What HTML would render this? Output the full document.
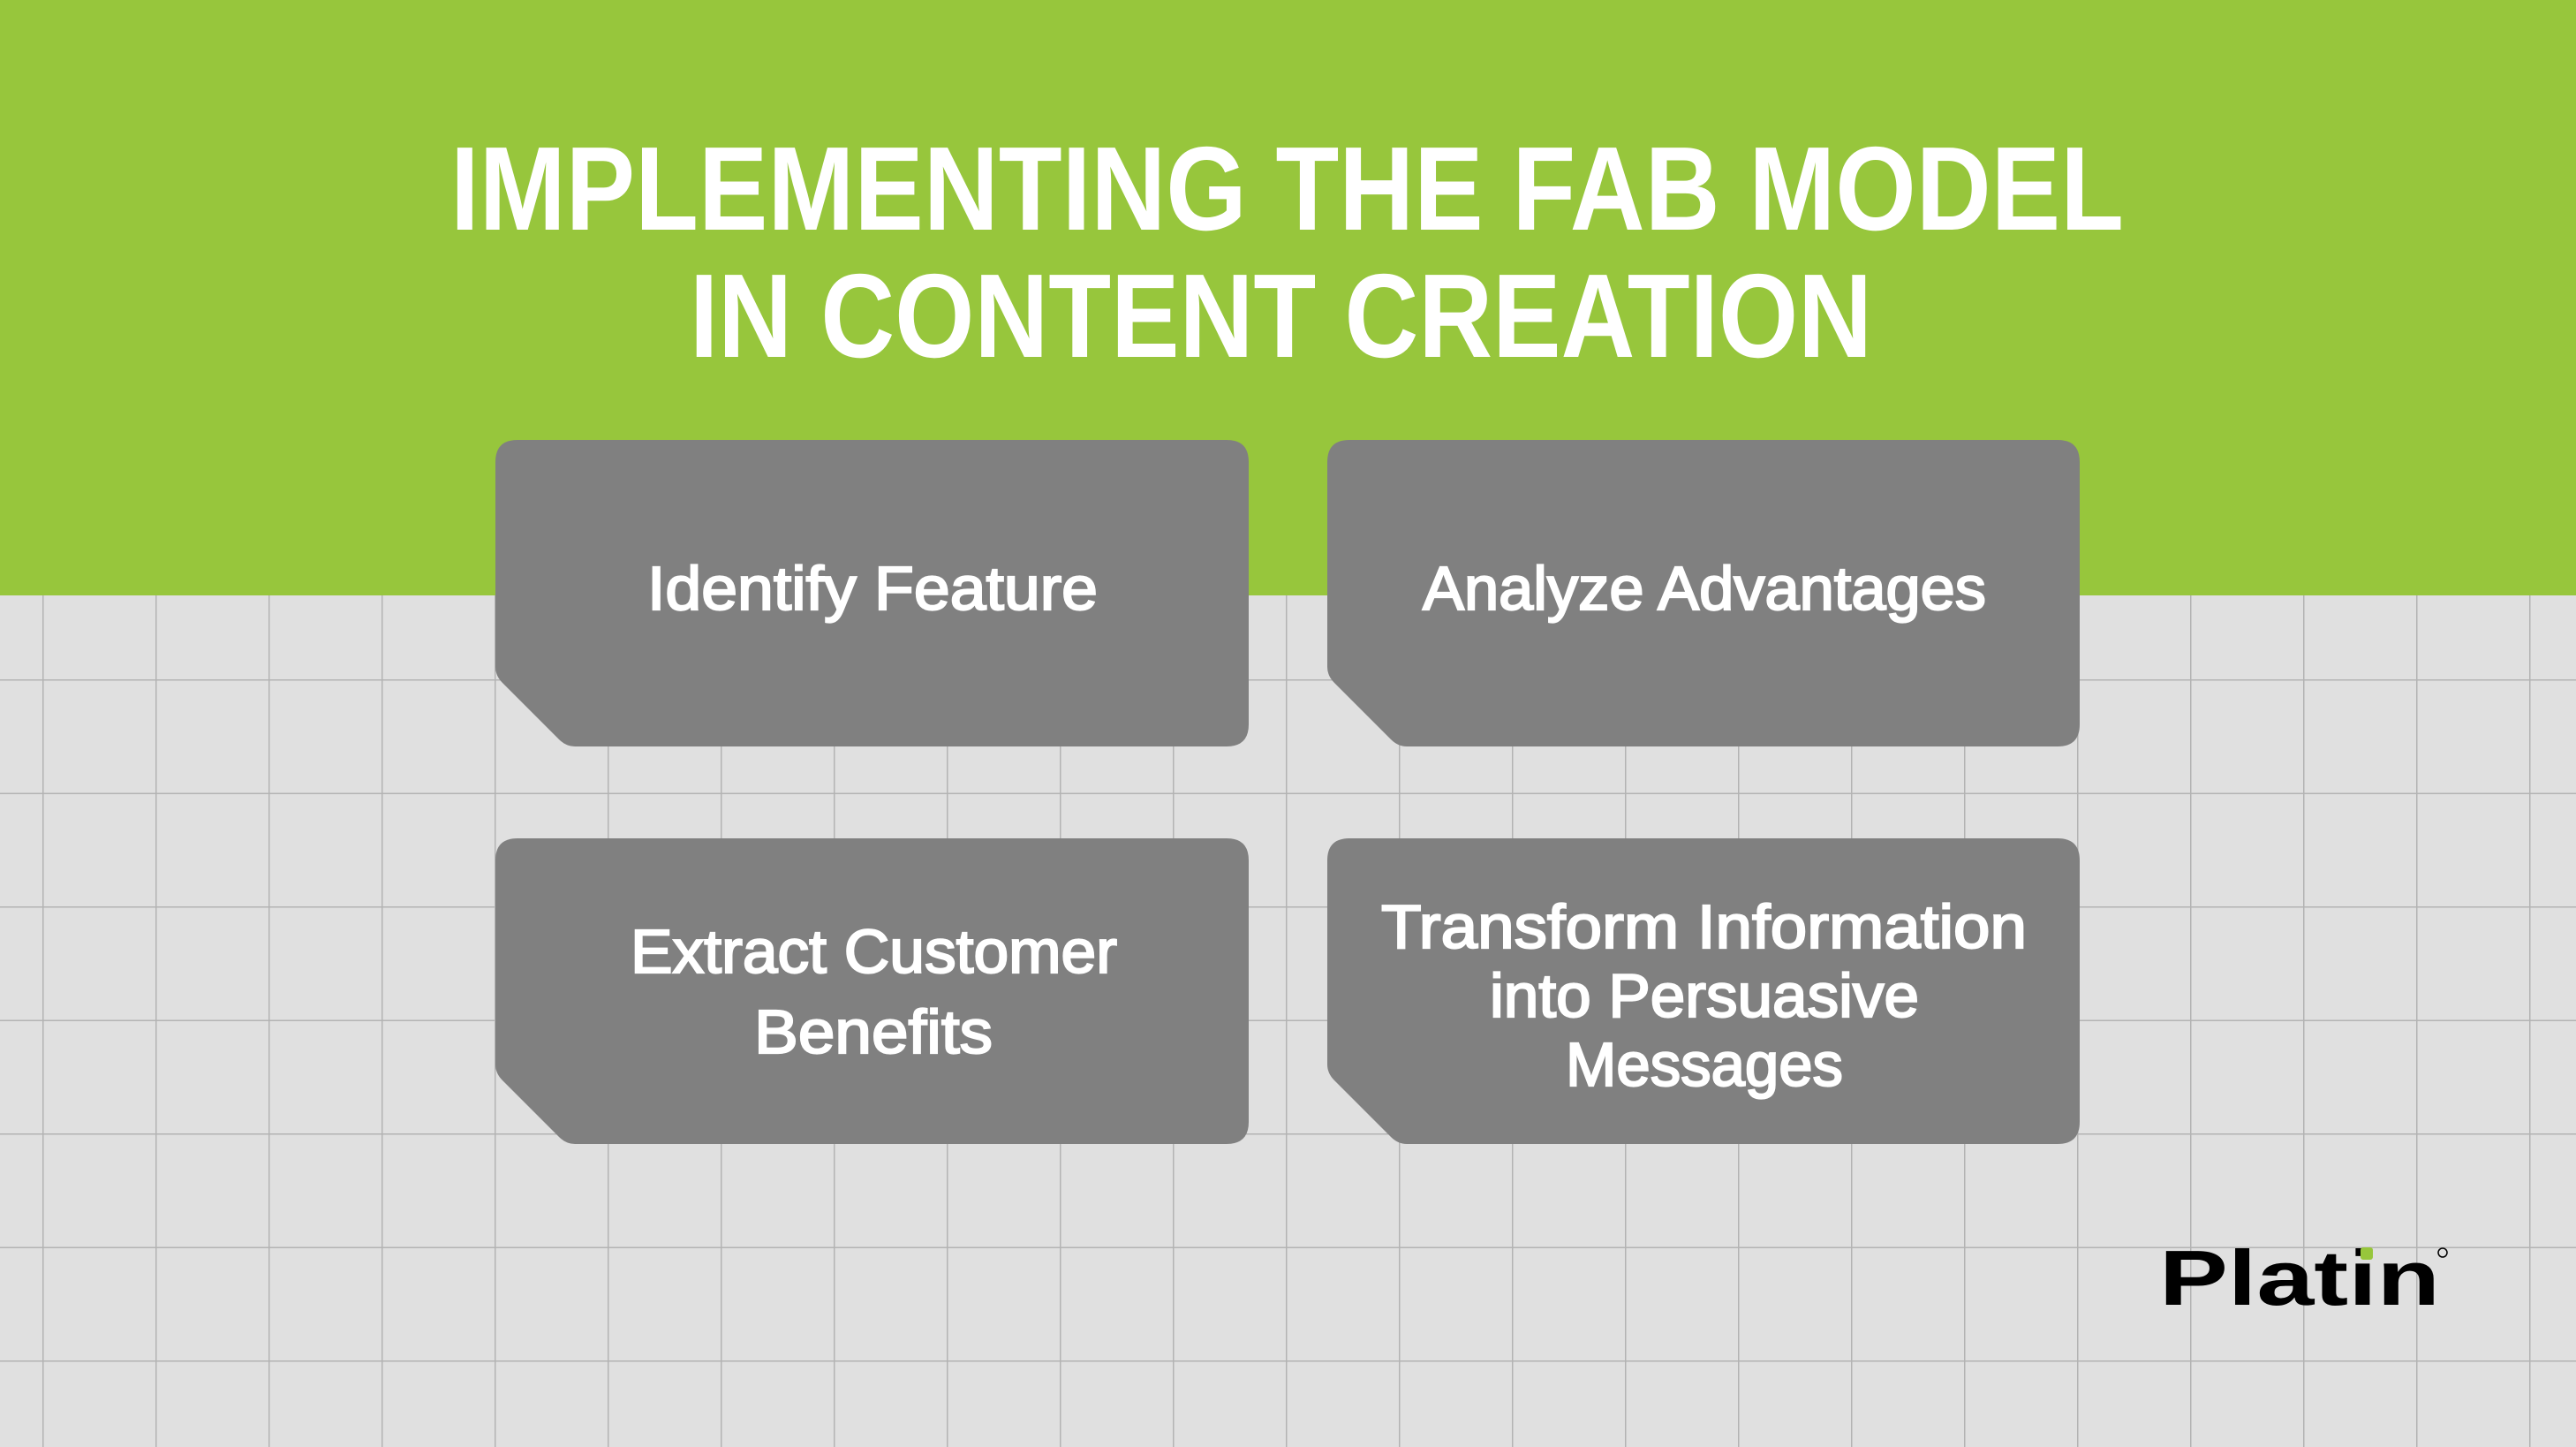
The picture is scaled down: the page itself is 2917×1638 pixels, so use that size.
<!DOCTYPE html>
<html><head><meta charset="utf-8"><style>
html,body{margin:0;padding:0;width:2917px;height:1638px;overflow:hidden;background:#e0e0e0}
svg{display:block}
</style></head><body>
<svg width="2917" height="1638" viewBox="0 0 2917 1638" xmlns="http://www.w3.org/2000/svg">
<defs>
<pattern id="g" x="48" y="769" width="128" height="128.5" patternUnits="userSpaceOnUse">
<path d="M0 0V128.5M0 0H128" stroke="#b3b3b3" stroke-width="3" fill="none"/>
</pattern>
</defs>
<rect width="2917" height="1638" fill="#e0e0e0"/>
<rect width="2917" height="1638" fill="url(#g)"/>
<rect width="2917" height="674" fill="#97c63c"/>
<g font-family="Liberation Sans, sans-serif" font-weight="bold" fill="#ffffff" font-size="135">
<text x="510" y="260" textLength="1895" lengthAdjust="spacingAndGlyphs">IMPLEMENTING THE FAB MODEL</text>
<text x="781" y="404" textLength="1339" lengthAdjust="spacingAndGlyphs">IN CONTENT CREATION</text>
</g>
<g fill="#808080">
<path d="M586 498H1389Q1414 498 1414 523V820Q1414 845 1389 845H651Q641 845 633 837L569 773Q561 765 561 755V523Q561 498 586 498Z"/>
<path d="M1528 498H2330Q2355 498 2355 523V820Q2355 845 2330 845H1593Q1583 845 1575 837L1511 773Q1503 765 1503 755V523Q1503 498 1528 498Z"/>
<path d="M586 949H1389Q1414 949 1414 974V1270Q1414 1295 1389 1295H651Q641 1295 633 1287L569 1223Q561 1215 561 1205V974Q561 949 586 949Z"/>
<path d="M1528 949H2330Q2355 949 2355 974V1270Q2355 1295 2330 1295H1593Q1583 1295 1575 1287L1511 1223Q1503 1215 1503 1205V974Q1503 949 1528 949Z"/>
</g>
<g font-family="Liberation Sans, sans-serif" fill="#ffffff" stroke="#ffffff" stroke-width="2.2" font-size="70">
<text x="733" y="690" textLength="510" lengthAdjust="spacingAndGlyphs">Identify Feature</text>
<text x="1611" y="690" textLength="638" lengthAdjust="spacingAndGlyphs">Analyze Advantages</text>
<text x="714" y="1101" textLength="551" lengthAdjust="spacingAndGlyphs">Extract Customer</text>
<text x="854" y="1192" textLength="270" lengthAdjust="spacingAndGlyphs">Benefits</text>
<text x="1564" y="1073" textLength="731" lengthAdjust="spacingAndGlyphs">Transform Information</text>
<text x="1687" y="1151" textLength="486" lengthAdjust="spacingAndGlyphs">into Persuasive</text>
<text x="1773" y="1229" textLength="314" lengthAdjust="spacingAndGlyphs">Messages</text>
</g>
<text x="2445" y="1477" font-family="Liberation Sans, sans-serif" font-weight="bold" font-size="88" fill="#000" textLength="318" lengthAdjust="spacingAndGlyphs">Platin</text>
<rect x="2673" y="1412" width="14" height="14" rx="3" fill="#97c63c"/>
<circle cx="2766" cy="1418" r="5" fill="none" stroke="#000" stroke-width="1.5"/>
</svg>
</body></html>
